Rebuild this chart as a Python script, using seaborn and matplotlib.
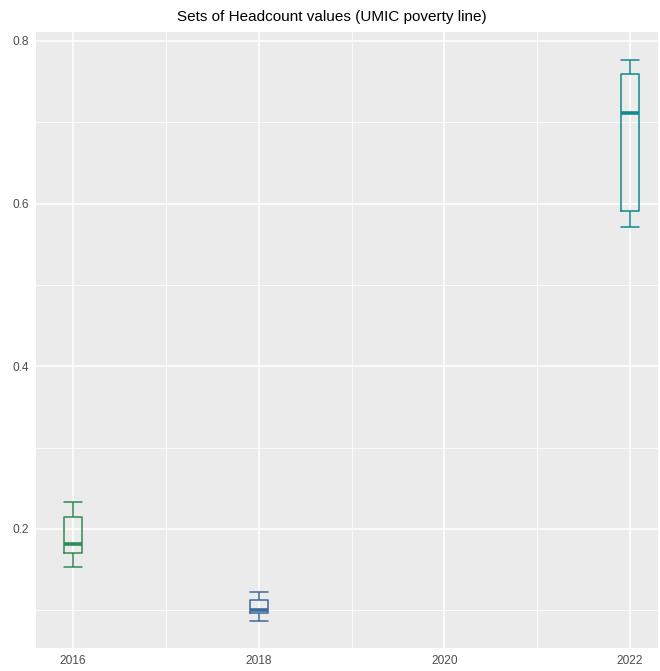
import matplotlib
matplotlib.use("Agg")
import matplotlib.pyplot as plt
from matplotlib.ticker import MultipleLocator
import seaborn as sns
import pandas as pd
import numpy as np

# Five-number summaries (min, q1, median, q3, max)
years = [2016, 2018, 2022]
hc_2016 = [0.153, 0.1705, 0.1815, 0.2148, 0.2332]
hc_2018 = [0.0868, 0.0966, 0.1003, 0.1126, 0.1225]
hc_2022 = [0.571, 0.5908, 0.7114, 0.7594, 0.7766]
colors = ["#2e8b57", "#3a6a9a", "#0f8a8f"]
title = "Sets of Headcount values (UMIC poverty line)"

rows = []
for y, vals in zip(years, [hc_2016, hc_2018, hc_2022]):
    for v in vals:
        rows.append({"year": y, "headcount": v})
df = pd.DataFrame(rows)

sns.set_theme(style="darkgrid")
plt.rcParams["font.family"] = ["Liberation Sans", "DejaVu Sans"]

fig = plt.figure(figsize=(6.6, 6.71), dpi=100)
ax = fig.add_axes([36 / 660, 1 - 648 / 671, (658 - 36) / 660, (648 - 32) / 671])
ax.set_facecolor("#ebebeb")

sns.boxplot(
    data=df, x="year", y="headcount", hue="year", palette=colors,
    native_scale=True, fill=False, width=0.1, whis=1.5, linewidth=1.1,
    legend=False, ax=ax,
    medianprops={"linewidth": 2.6},
)
# make caps span the full box width (ggplot-style errorbar caps)
hlines = []
for line in ax.lines:
    xd = np.asarray(line.get_xdata(), dtype=float)
    yd = np.asarray(line.get_ydata(), dtype=float)
    if len(xd) == 2 and yd[0] == yd[1] and xd[0] != xd[1]:
        hlines.append(line)
if hlines:
    full = max(abs(np.diff(np.asarray(l.get_xdata(), dtype=float))[0]) for l in hlines)
    for l in hlines:
        xd = np.asarray(l.get_xdata(), dtype=float)
        c = xd.mean()
        l.set_xdata([c - full / 2, c + full / 2])

ax.set_xlim(2015.60, 2022.30)
ax.set_ylim(0.0535, 0.811)
ax.xaxis.set_major_locator(MultipleLocator(2))
ax.xaxis.set_minor_locator(MultipleLocator(1))
ax.yaxis.set_major_locator(MultipleLocator(0.2))
ax.yaxis.set_minor_locator(MultipleLocator(0.1))
ax.set_xticks([2016, 2018, 2020, 2022])
ax.set_xticklabels(["2016", "2018", "2020", "2022"])
ax.set_yticks([0.2, 0.4, 0.6, 0.8])
ax.set_yticklabels(["0.2", "0.4", "0.6", "0.8"])
ax.grid(which="major", color="white", linewidth=1.1)
ax.grid(which="minor", color="white", linewidth=0.55)
ax.set_axisbelow(True)
for s in ax.spines.values():
    s.set_visible(False)
ax.tick_params(which="major", length=2.75, width=0.8, color="#333333",
               labelsize=8.6, labelcolor="#4d4d4d", pad=2)
ax.tick_params(which="minor", length=0)
ax.set_xlabel("")
ax.set_ylabel("")
fig.text(332 / 660, 1 - 17 / 671, title, ha="center", va="center",
         fontsize=11, color="black")

fig.savefig("out.png", dpi=100)
